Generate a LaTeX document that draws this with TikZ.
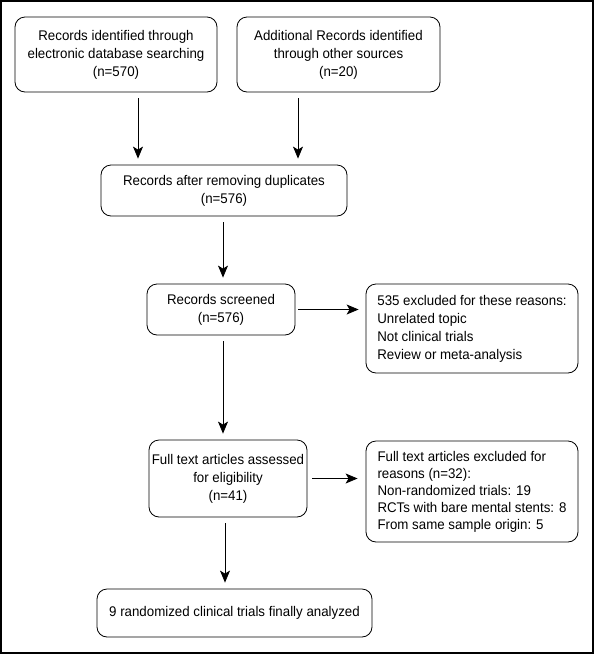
\documentclass[tikz,border=0pt]{standalone}
\usepackage{fontspec}
\setmainfont{Liberation Sans}[FakeStretch=0.95]
\usepackage{tikz}
\usetikzlibrary{arrows.meta}

\begin{document}
\begin{tikzpicture}[x=1pt, y=-1pt,
    recbox/.style={draw, rounded corners=10pt, line width=0.8pt, align=center,
      font=\fontsize{14}{18}\selectfont, inner sep=0pt},
    flow/.style={line width=0.8pt, -{Stealth[length=12pt, width=10pt, inset=3pt]},
      shorten <=6pt, shorten >=6pt}]
  \useasboundingbox (0,0) rectangle (594,654);
  \draw[line width=1.2pt] (1,1) rectangle (593,653);

  \node[recbox, minimum width=202pt, minimum height=75pt] (ident) at (116,54.5)
    {Records identified through\\electronic database searching\\(n=570)};
  \node[recbox, minimum width=203pt, minimum height=75pt] (other) at (338.5,54.5)
    {Additional Records identified\\through other sources\\(n=20)};
  \node[recbox, minimum width=246pt, minimum height=51pt] (dupl) at (224,190.5)
    {Records after removing duplicates\\(n=576)};
  \node[recbox, minimum width=148pt, minimum height=51pt] (screen) at (221,309.5)
    {Records screened\\(n=576)};
  \node[recbox, align=left, minimum width=212pt, minimum height=89pt] (excl) at (472,328.5)
    {535 excluded for these reasons:\\Unrelated topic\\Not clinical trials\\Review or meta-analysis};
  \node[recbox, minimum width=158pt, minimum height=77pt] (full) at (228,478.5)
    {Full text articles assessed\\for eligibility\\(n=41)};
  \node[recbox, align=left, minimum width=212pt, minimum height=101pt,
    font=\fontsize{14}{17}\selectfont] (fullexcl) at (472,491.5)
    {Full text articles excluded for\\reasons (n=32):\\Non-randomized trials: 19\\RCTs with bare mental stents: 8\\From same sample origin: 5};
  \node[recbox, minimum width=275pt, minimum height=48pt] (final) at (234.5,613)
    {9 randomized clinical trials finally analyzed};

  \draw[flow] ([xshift=22pt]ident.south) -- ([xshift=22pt]ident.south |- dupl.north);
  \draw[flow] ([xshift=-40.5pt]other.south) -- ([xshift=-40.5pt]other.south |- dupl.north);
  \draw[flow] ([xshift=-1pt]dupl.south) -- ([xshift=-1pt]dupl.south |- screen.north);
  \draw[flow] ([xshift=2pt]screen.south) -- ([xshift=2pt]screen.south |- full.north);
  \draw[flow] ([xshift=-3pt]full.south) -- ([xshift=-3pt]full.south |- final.north);
  \draw[flow, shorten <=3pt, shorten >=7pt] (screen.east) -- (excl.west |- screen.east);
  \draw[flow, shorten <=5pt, shorten >=8pt] (full.east) -- (fullexcl.west |- full.east);
\end{tikzpicture}
\end{document}
